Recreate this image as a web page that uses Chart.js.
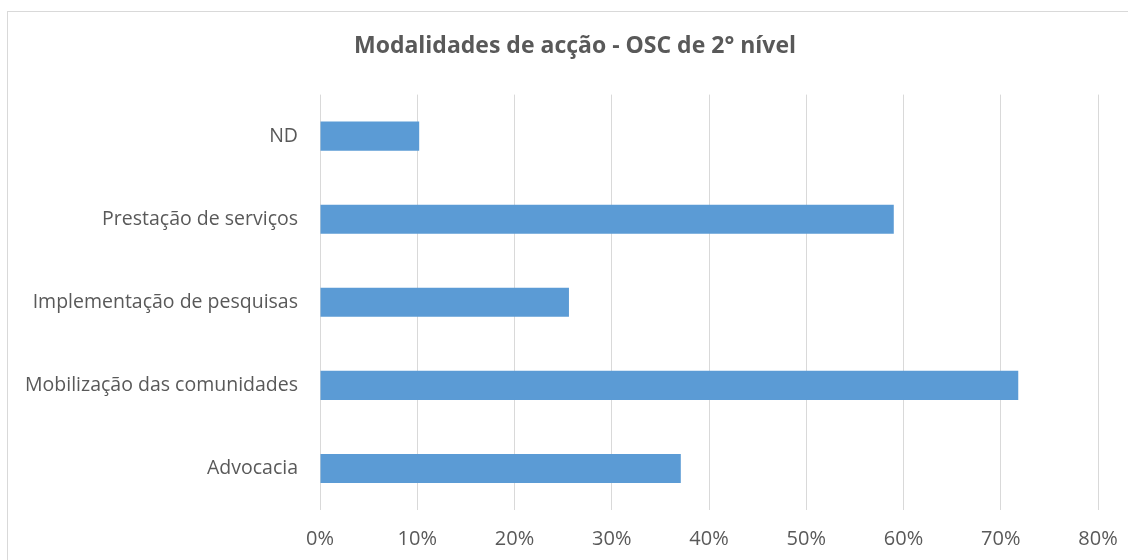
<!DOCTYPE html>
<html>
<head>
<meta charset="utf-8">
<script src="https://cdn.jsdelivr.net/npm/chart.js@4/dist/chart.umd.min.js"></script>
<style>
html,body{margin:0;padding:0;background:#fff;}
#wrap{width:1128px;height:560px;position:relative;}
</style>
</head>
<body>
<div id="wrap"><canvas id="c" width="1128" height="560"></canvas></div>
<script>
const categories = ["ND", "Prestação de serviços", "Implementação de pesquisas", "Mobilização das comunidades", "Advocacia"];
const values = [10.2, 59.0, 25.6, 71.8, 37.1];
const tickValues = [0, 10, 20, 30, 40, 50, 60, 70, 80];
const titleText = "Modalidades de acção - OSC de 2° nível";

const FONT = "'Open Sans', sans-serif";
const GRAY = "#595959";

const borderPlugin = {
  id: 'frame',
  beforeDraw(chart) {
    const ctx = chart.ctx;
    ctx.save();
    ctx.fillStyle = '#fff';
    ctx.fillRect(0, 0, chart.width, chart.height);
    ctx.strokeStyle = '#d9d9d9';
    ctx.lineWidth = 1;
    ctx.strokeRect(7.5, 11.5, chart.width + 20, chart.height + 20);
    ctx.restore();
  }
};

new Chart(document.getElementById('c'), {
  type: 'bar',
  data: {
    labels: categories,
    datasets: [{
      data: values,
      backgroundColor: '#5b9bd5',
      borderWidth: 0,
      barPercentage: 0.35,
      categoryPercentage: 1.0,
      yAxisID: 'y'
    }]
  },
  options: {
    indexAxis: 'y',
    responsive: false,
    animation: false,
    devicePixelRatio: 1,
    layout: { padding: { left: 0, right: -22, top: 0, bottom: 0 } },
    plugins: {
      legend: { display: false },
      tooltip: { enabled: false },
      title: {
        display: true,
        text: titleText,
        color: GRAY,
        font: { family: FONT, size: 23, weight: 'bold', lineHeight: 1.2 },
        padding: { top: 33, bottom: 34 }
      }
    },
    scales: {
      x: {
        min: 0,
        max: 80,
        afterBuildTicks(scale) { scale.ticks = tickValues.map(v => ({ value: v })); },
        afterFit(scale) { scale.height = 50; scale.paddingLeft = 0; scale.paddingRight = 0; },
        grid: { color: '#d9d9d9', lineWidth: 1, drawTicks: false },
        border: { display: false },
        ticks: {
          color: GRAY,
          padding: 17,
          font: { family: FONT, size: 20 },
          callback: v => v + '%'
        }
      },
      y: {
        afterFit(scale) { scale.width = 320; },
        grid: { display: false, drawTicks: false },
        border: { display: false },
        ticks: {
          color: GRAY,
          padding: 22,
          font: { family: FONT, size: 19.5 }
        }
      },
      yRight: {
        type: 'category',
        position: 'right',
        labels: categories,
        afterFit(scale) { scale.width = 52; },
        grid: { display: false, drawTicks: false },
        border: { display: false },
        ticks: { display: false }
      }
    }
  },
  plugins: [borderPlugin]
});
</script>
</body>
</html>
